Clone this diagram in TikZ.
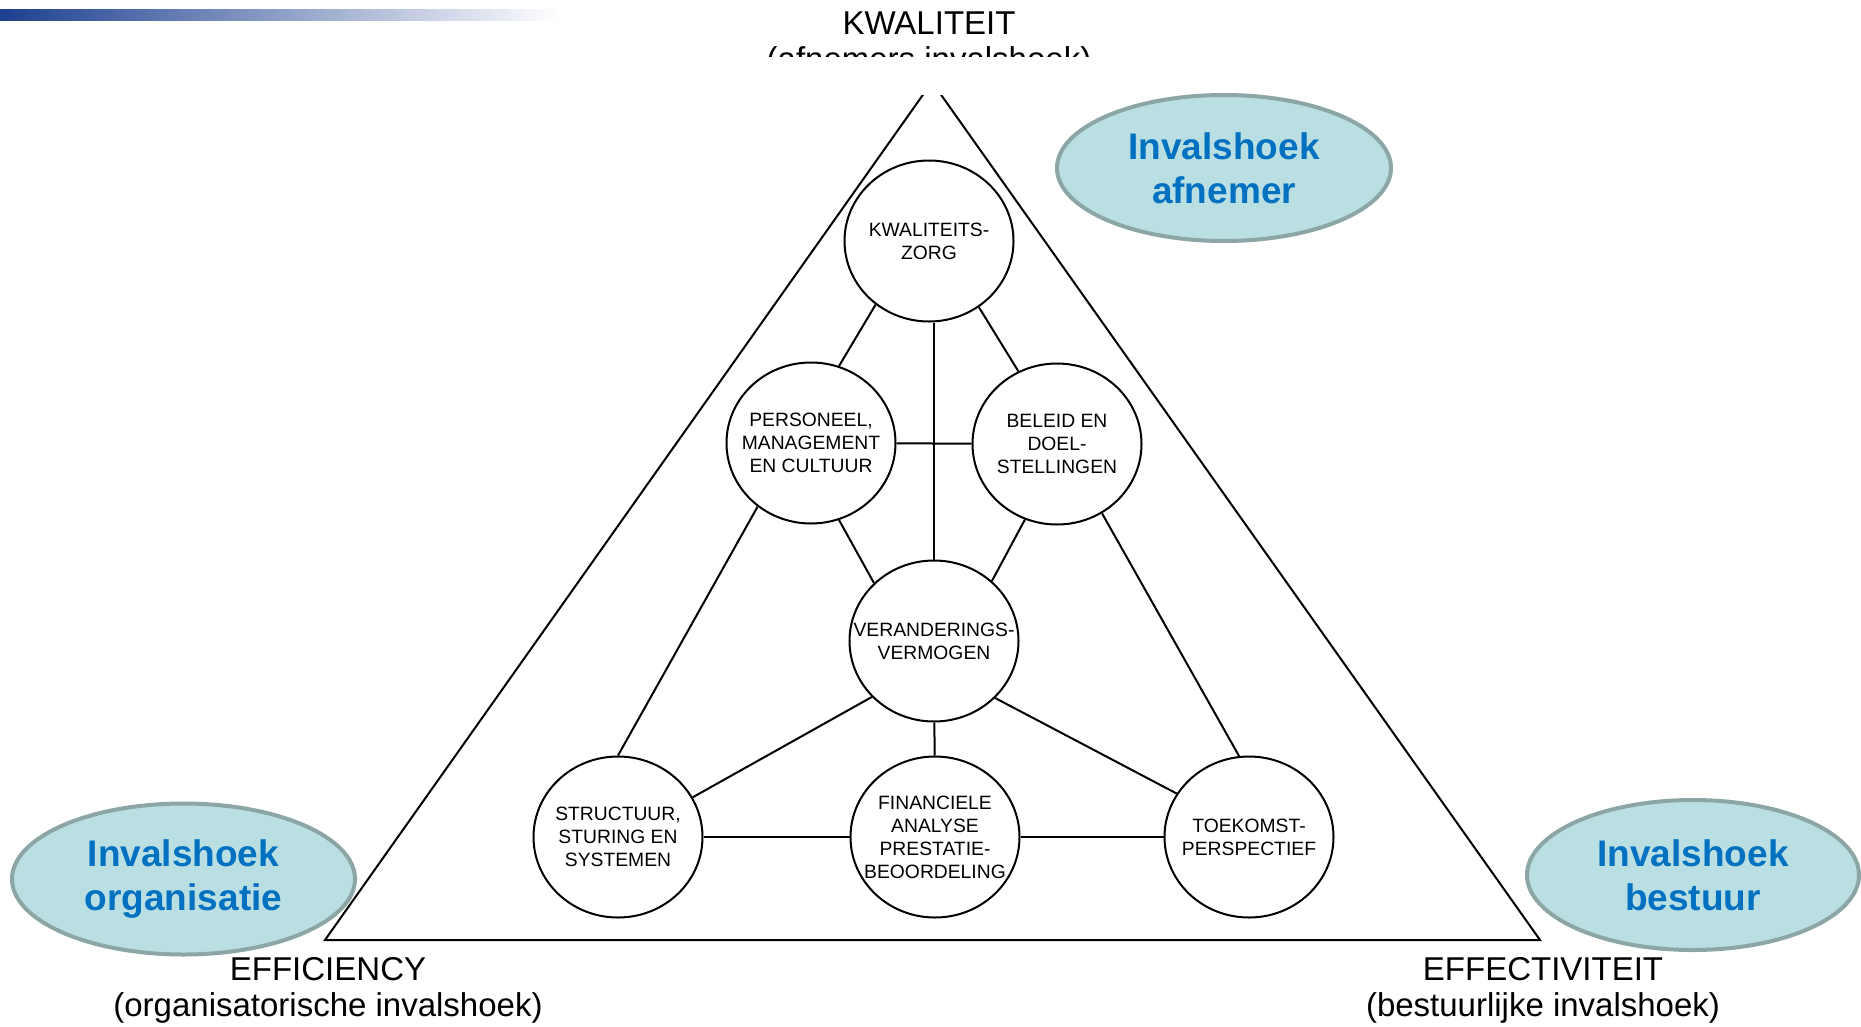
\documentclass[tikz,border=0pt]{standalone}
\usepackage{fontspec}
\setmainfont{Liberation Sans}
\usetikzlibrary{shapes.geometric}
\definecolor{ovfill}{HTML}{B9DFE2}
\definecolor{ovline}{HTML}{8CA6A6}
\definecolor{ovtext}{HTML}{0070C0}
\definecolor{barnavy}{HTML}{1C3F8F}
\definecolor{barlav}{HTML}{8E8EC8}
\begin{document}
\begin{tikzpicture}[x=1pt,y=-1pt,
  circ/.style={ellipse,draw,line width=2pt,minimum width=169pt,minimum height=161pt,inner sep=0pt,fill=white},
  ctext/.style={font=\fontsize{19.3}{23}\selectfont,align=center,inner sep=0pt},
  oval/.style={ellipse,draw=ovline,fill=ovfill,line width=4pt,inner sep=0pt,text=ovtext,
    font=\fontsize{37}{44}\selectfont\bfseries,align=center},
  axislab/.style={font=\fontsize{33}{36}\selectfont,align=center,inner sep=0pt},
  link/.style={line width=2pt}]
\useasboundingbox (0,0) rectangle (1861,1026);
\fill[white] (0,0) rectangle (1861,1026);
% header bar
\shade[left color=barnavy, middle color=barlav, right color=white] (0,9) rectangle (560,20);
% triangle
\draw[line width=2pt, line join=miter] (932,82) -- (325,940) -- (1540,940) -- cycle;
% axis labels
\node[axislab] (kwal) at (929,44.5) {KWALITEIT\\(afnemers invalshoek)};
\fill[white] (600,57) rectangle (1260,95);
\node[axislab] (effi) at (328,990) {EFFICIENCY\\(organisatorische invalshoek)};
\node[axislab] (effe) at (1543,990) {EFFECTIVITEIT\\(bestuurlijke invalshoek)};
% circles
\node[circ, label={[ctext]center:{KWALITEITS-\\ZORG}}] (K) at (929,241) {};
\node[circ, label={[ctext]center:{PERSONEEL,\\MANAGEMENT\\EN CULTUUR}}] (P) at (811,443) {};
\node[circ, label={[ctext]center:{BELEID EN\\DOEL-\\STELLINGEN}}] (B) at (1057,444) {};
\node[circ, label={[ctext]center:{VERANDERINGS-\\VERMOGEN}}] (V) at (934,641) {};
\node[circ, label={[ctext]center:{STRUCTUUR,\\STURING EN\\SYSTEMEN}}] (S) at (618,837) {};
\node[circ, label={[ctext]center:{FINANCIELE\\ANALYSE\\PRESTATIE-\\BEOORDELING}}] (F) at (935,837) {};
\node[circ, label={[ctext]center:{TOEKOMST-\\PERSPECTIEF}}] (T) at (1249,837) {};
% connectors
\draw[link] (K.230) -- (P.70);
\draw[link] (K.307) -- (B.118);
\draw[link] (V.north) -- (V.north |- K.south);
\draw[link] (P) -- (B);
\draw[link] (P.290) -- (V.136);
\draw[link] (B.247) -- (V.46);
\draw[link] (P.230) -- (S.north);
\draw[link] (B.303) -- (T.97);
\draw[link] (V.222) -- (S.28);
\draw[link] (V.317) -- (T.149);
\draw[link] (V) -- (F);
\draw[link] (S) -- (F);
\draw[link] (F) -- (T);
% viewpoint ovals
\node[oval, minimum width=334pt, minimum height=146pt] (afn) at (1224,168) {Invalshoek\\afnemer};
\node[oval, minimum width=343pt, minimum height=151pt] (org) at (183.5,879) {Invalshoek\\organisatie};
\node[oval, minimum width=332pt, minimum height=150pt] (bes) at (1693,875) {Invalshoek\\bestuur};
\end{tikzpicture}
\end{document}
